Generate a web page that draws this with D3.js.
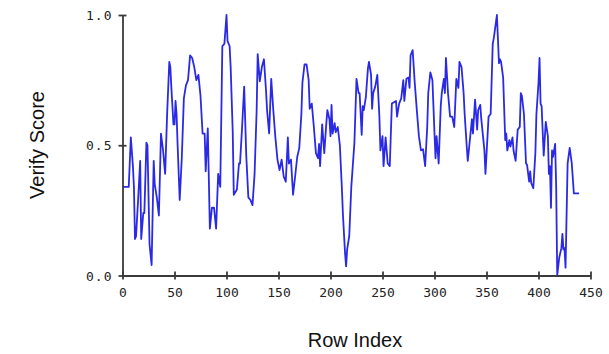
<!DOCTYPE html>
<html><head><meta charset="utf-8">
<script src="https://cdn.jsdelivr.net/npm/d3@7"></script>
<style>html,body{margin:0;padding:0;background:#fff;}</style>
</head><body>
<svg id="c" width="609" height="354"></svg>
<script>
const rowIndex = [0,6,8,10,11,12,13,15,17,18,20,21,23,24,26,28,30,31,33,35,37,39,41,43,45,46,47,49,50,51,52,53,55,57,59,61,63,65,67,69,71,73,75,77,79,80,82,84,86,88,90,92,94,96,98,100,101,103,104,106,107,110,112,113,115,117,119,121,123,125,127,129,130,132,134,136,138,139,141,143,145,147,149,151,153,155,157,159,160,162,164,166,168,170,172,173,175,177,179,180,182,184,186,188,189,190,192,194,196,197,199,200,201,202,204,205,207,209,211,212,214,215,216,218,220,223,225,227,228,230,231,232,234,236,237,239,240,241,243,245,247,248,250,251,253,255,257,259,261,263,264,266,268,270,271,273,275,276,277,279,281,283,285,287,289,291,293,294,296,298,300,301,302,304,306,307,309,310,311,313,315,317,319,321,323,324,326,328,329,331,332,334,336,337,339,341,342,344,345,348,349,352,354,356,357,360,362,363,364,366,368,369,370,372,373,375,376,378,380,382,383,384,386,388,389,391,392,393,395,397,398,400,401,402,403,405,407,409,410,411,412,413,414,416,417,418,420,422,423,424,425,426,428,430,432,434,439];
const verifyScore = [0.34,0.34,0.53,0.42,0.34,0.14,0.15,0.29,0.44,0.14,0.24,0.24,0.51,0.50,0.12,0.04,0.44,0.35,0.30,0.23,0.545,0.48,0.39,0.63,0.82,0.80,0.72,0.58,0.58,0.67,0.62,0.50,0.29,0.45,0.68,0.73,0.75,0.845,0.835,0.80,0.75,0.77,0.69,0.545,0.545,0.40,0.565,0.18,0.26,0.26,0.18,0.39,0.34,0.88,0.89,1.0,0.90,0.88,0.80,0.55,0.31,0.33,0.43,0.43,0.57,0.725,0.46,0.30,0.29,0.27,0.39,0.635,0.85,0.745,0.80,0.83,0.71,0.635,0.545,0.755,0.635,0.53,0.445,0.405,0.445,0.38,0.36,0.53,0.43,0.445,0.31,0.38,0.455,0.49,0.62,0.74,0.81,0.81,0.75,0.64,0.66,0.57,0.47,0.45,0.505,0.42,0.58,0.47,0.585,0.635,0.60,0.535,0.655,0.545,0.585,0.55,0.57,0.50,0.33,0.23,0.085,0.035,0.10,0.15,0.34,0.51,0.755,0.70,0.70,0.54,0.65,0.635,0.685,0.795,0.82,0.77,0.64,0.70,0.725,0.77,0.61,0.48,0.535,0.42,0.53,0.43,0.42,0.66,0.665,0.67,0.61,0.66,0.68,0.75,0.67,0.755,0.76,0.72,0.845,0.865,0.74,0.635,0.535,0.48,0.485,0.42,0.57,0.70,0.78,0.75,0.545,0.45,0.535,0.43,0.65,0.70,0.755,0.70,0.835,0.70,0.61,0.61,0.57,0.755,0.72,0.82,0.80,0.70,0.62,0.495,0.44,0.52,0.60,0.545,0.675,0.56,0.635,0.655,0.60,0.48,0.39,0.61,0.62,0.89,0.91,1.0,0.815,0.83,0.82,0.76,0.52,0.545,0.48,0.52,0.495,0.53,0.48,0.44,0.56,0.57,0.70,0.69,0.62,0.43,0.425,0.36,0.40,0.355,0.335,0.47,0.62,0.74,0.835,0.66,0.65,0.46,0.59,0.535,0.39,0.42,0.26,0.48,0.455,0.505,0.34,0.0,0.07,0.105,0.16,0.10,0.105,0.03,0.43,0.49,0.43,0.315,0.315];
const xTicks = [0,50,100,150,200,250,300,350,400,450];
const yTicks = [0.0,0.5,1.0];
const xTitle = "Row Index";
const yTitle = "Verify Score";

const svg = d3.select("#c");
const x = d3.scaleLinear().domain([0,450]).range([122.5,590.5]);
const y = d3.scaleLinear().domain([0,1]).range([275.5,15]);
const axisColor = "#3a3a3a";

// line
const line = d3.line().x((d,i)=>x(rowIndex[i])).y(d=>y(d));
svg.append("path").datum(verifyScore)
  .attr("d", line).attr("fill","none")
  .attr("stroke","#2a2ae6").attr("stroke-width",1.8).attr("stroke-linejoin","round");

// x axis
const gx = svg.append("g").attr("transform",`translate(0,${y(0)})`)
  .call(d3.axisBottom(x).tickValues(xTicks).tickSize(4).tickSizeOuter(0).tickPadding(8).tickFormat(d3.format("d")));
gx.selectAll(".tick line").attr("y1",-4);
// y axis
const gy = svg.append("g").attr("transform",`translate(${x(0)},0)`)
  .call(d3.axisLeft(y).tickValues(yTicks).tickSize(4).tickSizeOuter(0).tickPadding(6).tickFormat(d=>d3.format(".1f")(d)));
gy.selectAll(".tick line").attr("x1",4);

[gx,gy].forEach(g=>{
  g.select(".domain").attr("stroke",axisColor).attr("stroke-width",1.8);
  g.selectAll(".tick line").attr("stroke",axisColor).attr("stroke-width",1.8);
  g.selectAll(".tick text").attr("fill","#222").style("font-family","'DejaVu Sans Mono', monospace").style("font-size","13px");
});
gy.selectAll(".tick text").style("letter-spacing","1px").attr("dy","0.35em");

svg.append("text").attr("x",355).attr("y",347).attr("text-anchor","middle")
  .style("font-family","'Liberation Sans', Arial, sans-serif").style("font-size","20px").attr("fill","#111").text(xTitle);
svg.append("text").attr("transform","translate(44,145) rotate(-90)").attr("text-anchor","middle")
  .style("font-family","'Liberation Sans', Arial, sans-serif").style("font-size","20px").attr("fill","#111").text(yTitle);
</script>
</body></html>
